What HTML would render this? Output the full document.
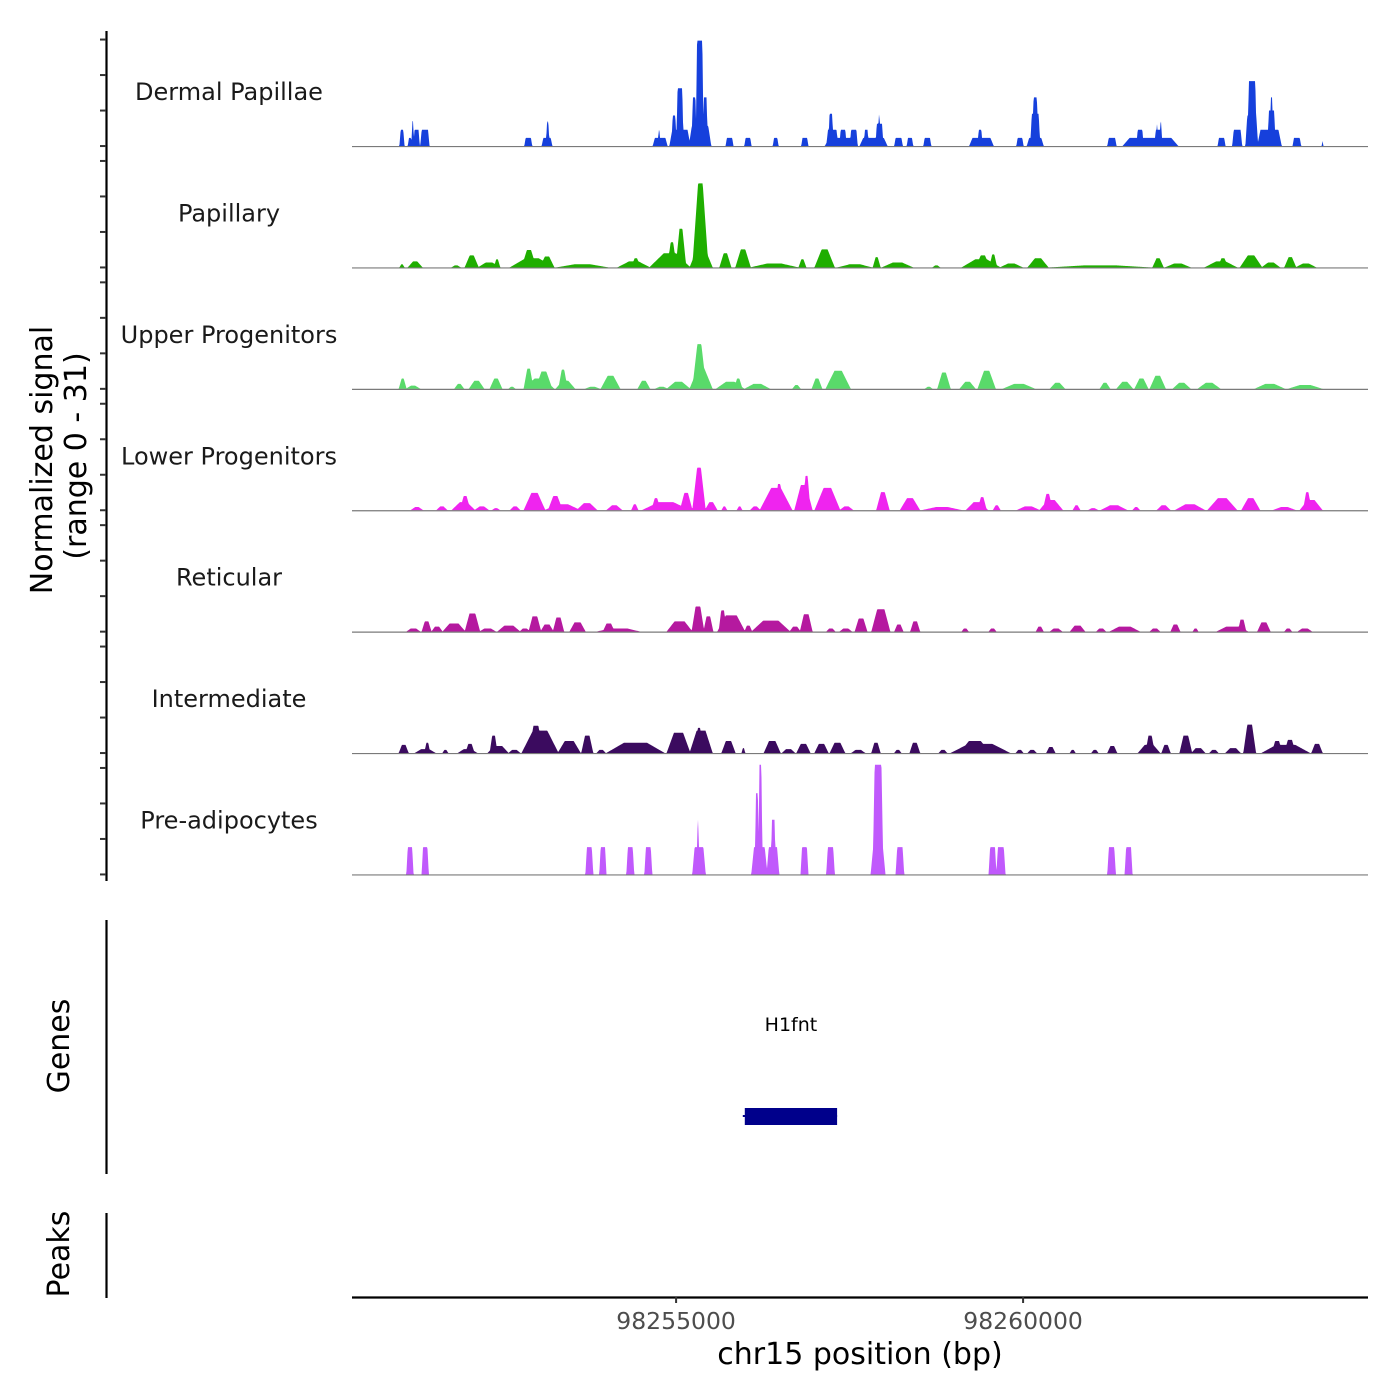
<!DOCTYPE html>
<html><head><meta charset="utf-8">
<style>
html,body{margin:0;padding:0;background:#fff;}
svg{display:block;font-family:"DejaVu Sans","Liberation Sans",sans-serif;}
</style></head>
<body>
<svg id="chart" width="1400" height="1400" viewBox="0 0 1400 1400">
  <rect x="0" y="0" width="1400" height="1400" fill="#fff"/>
  <g id="tracks"></g>
  <g id="yaxis"></g>
  <text x="52" y="460" font-size="30" text-anchor="middle" transform="rotate(-90 52 460)" fill="#000">Normalized signal</text>
  <text x="86" y="456" font-size="30" text-anchor="middle" transform="rotate(-90 86 456)" fill="#000">(range 0 - 31)</text>
  <line x1="106.5" y1="920" x2="106.5" y2="1174" stroke="#000" stroke-width="2.2"/>
  <text x="69" y="1046" font-size="30" text-anchor="middle" transform="rotate(-90 69 1046)" fill="#000">Genes</text>
  <line x1="106.5" y1="1213" x2="106.5" y2="1298" stroke="#000" stroke-width="2.2"/>
  <text x="69" y="1254" font-size="30" text-anchor="middle" transform="rotate(-90 69 1254)" fill="#000">Peaks</text>
  <g id="genes"></g>
  <g id="xaxis"></g>
  <text x="860" y="1364" font-size="30" text-anchor="middle" fill="#000">chr15 position (bp)</text>
</svg>
<script>
// ---- data ----
const regionStart = 98250330;
const regionEnd = 98264970;
const trackNames = ["Dermal Papillae","Papillary","Upper Progenitors","Lower Progenitors","Reticular","Intermediate","Pre-adipocytes"];
const trackColors = ["#1640dc","#1fae00","#59da6a","#ef24ef","#b5199f","#3b0b5f","#c059fc"];
const yMax = 31;
const yTicks = [0,10,20,30];
const xTickValues = [98255000, 98260000];
const xTickLabels = ["98255000","98260000"];
const geneNames = ["H1fnt"];
const geneStarts = [98255990];
const geneEnds = [98257320];
// peaks: [start kb offset, end kb offset, signal]
const dermalPeaks = [[0.69,0.75,4.6],[0.81,0.86,2.3],[0.86,0.89,7.1],[0.89,0.97,4.6],[0.99,1.11,4.6],[2.49,2.59,2.3],[2.74,2.88,2.3],[2.80,2.84,6.9],[4.34,4.54,2.3],[4.41,4.44,4.6],[4.58,4.87,4.6],[4.61,4.67,8.6],[4.68,4.77,16.3],[4.86,5.17,5.7],[4.90,4.96,13.7],[4.96,5.06,29.7],[5.06,5.12,13.7],[5.39,5.49,2.3],[5.66,5.75,2.3],[6.07,6.14,2.3],[6.48,6.57,2.3],[6.82,7.28,2.3],[6.84,7.00,4.6],[6.87,6.93,9.1],[7.03,7.12,4.6],[7.18,7.28,4.6],[7.32,7.71,2.3],[7.38,7.44,4.6],[7.55,7.65,6.3],[7.58,7.61,8.9],[7.82,7.93,2.3],[8.00,8.08,2.3],[8.24,8.34,2.3],[8.90,9.24,2.3],[9.02,9.08,4.6],[9.58,9.67,2.3],[9.73,9.96,2.3],[9.78,9.91,9.1],[9.81,9.88,13.7],[10.89,11.01,2.3],[11.11,11.90,2.3],[11.31,11.40,4.6],[11.57,11.67,4.6],[11.59,11.61,6.9],[11.64,11.67,6.9],[12.48,12.58,2.3],[12.69,12.82,4.6],[12.88,13.05,8.6],[12.91,13.03,18.3],[13.05,13.39,4.6],[13.20,13.30,10],[13.23,13.27,13.7],[13.56,13.67,2.3],[13.98,13.99,2.3]];
const papillaryPeaks = [[0.69,0.75,0.9],[0.81,1.01,1.7],[1.44,1.56,0.6],[1.63,1.82,3.4],[1.82,2.13,1.4],[2.05,2.13,2.3],[2.28,2.91,2.6],[2.45,2.65,4.9],[2.71,2.91,3.1],[2.95,3.69,0.9],[3.83,4.29,1.7],[4.03,4.15,2.6],[4.29,4.87,4.0],[4.55,4.67,7.1],[4.67,4.81,10.9],[4.87,5.19,5.7],[4.91,5.13,23.7],[5.30,5.46,4.0],[5.53,5.74,5.1],[5.74,6.43,1.1],[6.44,6.54,2.3],[6.67,6.95,5.1],[7.00,7.49,0.9],[7.51,7.61,2.9],[7.64,8.08,1.4],[8.37,8.47,0.6],[8.79,9.34,2.3],[8.99,9.19,3.4],[9.19,9.29,3.7],[9.34,9.66,1.1],[9.74,10.03,2.6],[10.06,11.50,0.6],[11.54,11.69,2.6],[11.72,12.08,1.1],[12.29,12.75,1.7],[12.48,12.62,2.6],[12.80,13.11,3.4],[13.11,13.37,1.4],[13.44,13.60,2.9],[13.60,13.89,1.1]];
const upperPeaks = [[0.68,0.78,2.9],[0.78,0.98,0.9],[1.48,1.61,1.4],[1.69,1.90,2.3],[1.99,2.16,2.9],[2.26,2.35,0.6],[2.48,2.91,2.9],[2.48,2.61,5.7],[2.65,2.88,4.9],[2.94,3.21,2.3],[2.98,3.10,5.4],[3.36,3.57,0.6],[3.59,3.86,3.7],[4.12,4.29,2.3],[4.37,4.55,0.6],[4.54,4.87,2.0],[4.87,5.19,5.7],[4.91,5.10,12.6],[5.25,5.65,2.0],[5.51,5.62,2.9],[5.66,6.02,1.4],[6.35,6.46,1.1],[6.63,6.77,2.9],[6.83,7.18,5.1],[8.26,8.36,0.6],[8.44,8.62,4.6],[8.76,8.98,2.0],[9.02,9.27,5.1],[9.38,9.84,1.4],[10.06,10.27,1.7],[10.78,10.92,1.7],[11.02,11.25,2.0],[11.28,11.47,2.9],[11.50,11.72,3.7],[11.83,12.08,1.7],[12.19,12.51,1.7],[13.01,13.44,1.4],[13.49,13.98,1.1]];
const lowerPeaks = [[0.85,1.02,0.9],[1.22,1.37,1.1],[1.44,1.77,2.3],[1.56,1.70,4.0],[1.77,1.97,1.1],[2.02,2.13,0.6],[2.28,2.42,1.1],[2.48,2.78,4.9],[2.78,3.29,1.7],[2.83,3.03,4.0],[3.24,3.53,2.0],[3.67,3.89,1.4],[4.03,4.12,1.7],[4.18,4.87,2.3],[4.32,4.44,3.4],[4.73,4.90,4.9],[4.91,5.09,12.0],[5.09,5.26,2.3],[5.33,5.40,1.1],[5.55,5.62,1.1],[5.74,5.88,1.1],[5.88,6.34,6.3],[6.10,6.21,7.4],[6.38,6.63,7.1],[6.50,6.60,9.7],[6.67,7.03,6.3],[7.03,7.22,1.1],[7.56,7.74,5.1],[7.90,8.18,3.4],[8.21,8.79,0.9],[8.85,9.16,2.3],[9.02,9.14,3.7],[9.24,9.34,1.4],[9.58,9.91,1.1],[9.91,10.24,2.9],[9.96,10.09,4.6],[10.39,10.49,1.4],[10.61,10.75,0.6],[10.79,11.17,1.4],[11.25,11.35,0.9],[11.60,11.79,1.4],[11.86,12.29,1.7],[12.33,12.75,3.4],[12.82,13.08,3.4],[13.27,13.60,0.9],[13.66,13.98,2.9],[13.71,13.82,5.1]];
const reticularPeaks = [[0.79,0.98,0.9],[1.01,1.14,2.9],[1.15,1.30,1.4],[1.31,1.63,2.3],[1.63,1.84,5.1],[1.84,2.07,0.9],[2.10,2.42,1.7],[2.42,2.56,0.9],[2.55,2.72,4.3],[2.72,2.90,2.0],[2.90,3.05,4.0],[3.14,3.36,2.6],[3.53,4.15,0.9],[3.62,3.78,2.3],[4.54,4.90,2.9],[4.90,5.07,7.1],[5.07,5.20,4.3],[5.27,5.66,4.6],[5.29,5.39,6.0],[5.66,5.76,1.7],[5.76,6.31,3.1],[6.31,6.46,1.4],[6.46,6.63,4.9],[6.84,6.96,0.9],[7.03,7.20,0.9],[7.25,7.42,3.7],[7.49,7.75,6.3],[7.82,7.94,2.0],[8.05,8.18,2.9],[8.79,8.88,0.9],[9.18,9.28,0.9],[9.86,9.96,1.4],[10.06,10.23,0.9],[10.35,10.56,1.7],[10.73,10.86,0.9],[10.92,11.35,1.4],[11.50,11.64,0.9],[11.80,11.93,2.0],[12.12,12.19,0.9],[12.46,12.91,1.4],[12.77,12.88,3.4],[13.05,13.23,2.6],[13.44,13.54,0.9],[13.63,13.83,0.9]];
const intermediatePeaks = [[0.68,0.81,2.3],[0.91,1.20,1.1],[1.05,1.12,2.9],[1.31,1.38,0.9],[1.53,1.80,1.1],[1.64,1.76,2.6],[1.96,2.25,2.0],[1.99,2.09,4.9],[2.26,2.42,0.9],[2.45,2.97,6.3],[2.56,2.74,7.7],[2.97,3.29,3.4],[3.31,3.47,4.9],[3.53,3.65,0.9],[3.67,4.50,2.9],[4.54,4.87,5.7],[4.87,5.19,6.3],[4.96,5.04,7.1],[5.33,5.52,3.4],[5.62,5.66,1.4],[5.94,6.17,3.4],[6.20,6.38,1.1],[6.41,6.60,2.6],[6.67,6.86,2.6],[6.89,7.10,2.9],[7.20,7.39,0.9],[7.49,7.61,2.9],[7.82,7.91,0.9],[8.04,8.18,2.9],[8.46,8.57,0.9],[8.63,9.48,2.6],[8.76,9.19,3.4],[9.57,9.67,0.9],[9.74,9.86,0.9],[10.01,10.13,1.7],[10.35,10.42,0.9],[10.66,10.75,0.9],[10.89,11.02,2.0],[11.33,11.64,2.3],[11.44,11.56,4.9],[11.67,11.79,2.3],[11.93,12.10,4.9],[12.10,12.29,1.4],[12.36,12.48,0.9],[12.59,12.80,1.4],[12.85,13.02,8.0],[13.11,13.80,2.3],[13.26,13.40,3.4],[13.44,13.59,3.7],[13.83,13.98,2.6]];
const preadipoPeaks = [[0.79,0.88,7.7],[1.01,1.10,7.7],[3.37,3.47,7.7],[3.57,3.66,7.7],[3.96,4.06,7.7],[4.22,4.32,7.7],[4.91,5.09,7.7],[4.97,5.00,15.4],[5.76,5.98,7.7],[5.81,5.86,22.9],[5.86,5.91,30.9],[5.98,6.15,7.7],[6.04,6.10,15.4],[6.47,6.57,7.7],[6.84,6.95,7.7],[7.48,7.68,7.7],[7.51,7.65,30.9],[7.84,7.95,7.7],[9.18,9.28,7.7],[9.29,9.41,7.7],[10.89,11.00,7.7],[11.14,11.24,7.7]];
const allPeaks = [dermalPeaks,papillaryPeaks,upperPeaks,lowerPeaks,reticularPeaks,intermediatePeaks,preadipoPeaks];

// ---- layout ----
const NS = "http://www.w3.org/2000/svg";
const X0 = 352, X1 = 1368;
const pxPerKb = (X1 - X0) / ((regionEnd - regionStart) / 1000);
function xKb(kb){ return X0 + kb * pxPerKb; }
function xBp(bp){ return xKb((bp - regionStart) / 1000); }
const panelTop0 = 36, panelStep = 121.4, unitPx = 3.55;
function baseline(i){ return panelTop0 + yMax * unitPx + i * panelStep; }
function yVal(i, v){ return baseline(i) - v * unitPx; }
const taperFrac = [0.12, 0.35, 0.35, 0.35, 0.3, 0.3, 0.15];

function mk(tag, attrs, parent){
  const e = document.createElementNS(NS, tag);
  for (const k in attrs) e.setAttribute(k, attrs[k]);
  parent.appendChild(e);
  return e;
}

const tracksG = document.getElementById('tracks');
allPeaks.forEach((peaks, i) => {
  const g = mk('g', {}, tracksG);
  
  
  const pts = [];
  const segs = peaks.map(p => {
    const a = xKb(p[0]), b = xKb(p[1]);
    const t = Math.max(0.8, (b - a) * taperFrac[i]);
    return [a, b, p[2], t];
  });
  for (let x = X0; x <= X1; x += 0.5) {
    let v = 0;
    for (const s of segs) {
      const [a, b, h, t] = s;
      if (x < a - 0.5 || x > b + 0.5) continue;
      let f;
      if (x < a + t) f = (x - a + 0.5) / (t + 0.5);
      else if (x > b - t) f = (b - x + 0.5) / (t + 0.5);
      else f = 1;
      f = Math.max(0, Math.min(1, f));
      if (h * f > v) v = h * f;
    }
    pts.push([x, yVal(i, v)]);
  }
  let d = 'M' + X0 + ',' + baseline(i).toFixed(1);
  pts.forEach(p => { d += 'L' + p[0].toFixed(1) + ',' + p[1].toFixed(2); });
  d += 'L' + X1 + ',' + baseline(i).toFixed(1) + 'Z';
  const area = mk('path', {d: d, fill: trackColors[i], stroke: 'none'}, g);
  
  
  const bl = mk('line', {x1: X0, x2: X1, y1: baseline(i)+0.5, y2: baseline(i)+0.5, stroke: '#7a7a7a', 'stroke-width': 1.2}, g);
  
  
  const lab = mk('text', {x: 229, y: baseline(i) - 46, 'font-size': 24, 'text-anchor': 'middle', fill: '#1a1a1a'}, g);
  lab.textContent = trackNames[i];
  
  
});

// y axis
const yG = document.getElementById('yaxis');
const yl = mk('line', {x1: 106.5, x2: 106.5, y1: 31, y2: 881, stroke: '#000', 'stroke-width': 2.2}, yG);


for (let i = 0; i < trackNames.length; i++) {
  yTicks.forEach(t => {
    const tk = mk('line', {x1: 100, x2: 106, y1: yVal(i, t), y2: yVal(i, t), stroke: '#333', 'stroke-width': 2}, yG);
    
    
  });
}

// genes
const gG = document.getElementById('genes');
geneNames.forEach((n, k) => {
  const a = xBp(geneStarts[k]), b = xBp(geneEnds[k]);
  const ln = mk('line', {x1: a - 2, x2: b, y1: 1116, y2: 1116, stroke: '#00008b', 'stroke-width': 2}, gG);
  
  
  const r = mk('rect', {x: a, y: 1108, width: b - a, height: 17, fill: '#00008b'}, gG);
  
  
  const t = mk('text', {x: (a + b) / 2, y: 1031, 'font-size': 19, 'text-anchor': 'middle', fill: '#000'}, gG);
  t.textContent = n;
  
  
});

// x axis
const xG = document.getElementById('xaxis');
const xl = mk('line', {x1: X0, x2: X1, y1: 1297.5, y2: 1297.5, stroke: '#000', 'stroke-width': 2.2}, xG);


xTickValues.forEach((v, k) => {
  const x = xBp(v);
  const tk = mk('line', {x1: x, x2: x, y1: 1297, y2: 1303, stroke: '#333', 'stroke-width': 2}, xG);
  
  
  const t = mk('text', {x: x, y: 1329, 'font-size': 23.5, 'text-anchor': 'middle', fill: '#4d4d4d'}, xG);
  t.textContent = xTickLabels[k];
  
  
});
</script>
</body></html>
